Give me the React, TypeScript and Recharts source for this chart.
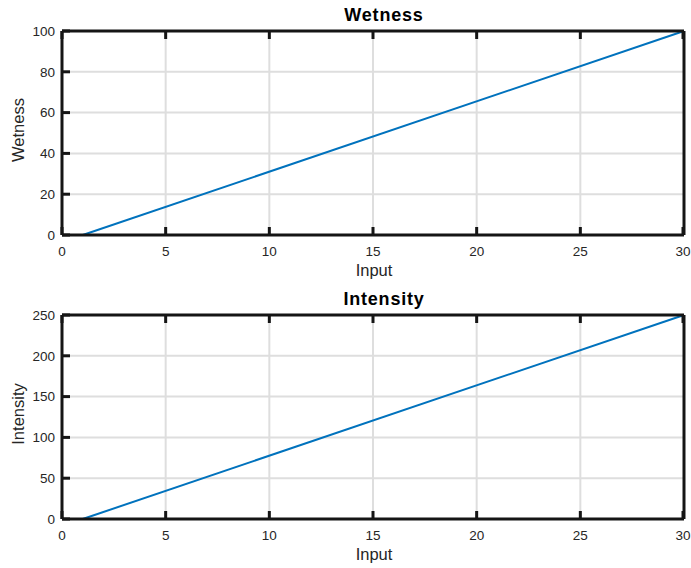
import React from "react";
import {
  CartesianGrid,
  Line,
  LineChart,
  XAxis,
  YAxis,
} from "recharts";

// input sweep and the two mapped outputs
const inputs = [1, 30];
const wetness = [0, 100];
const intensity = [0, 250];

const inputTicks = [0, 5, 10, 15, 20, 25, 30];
const wetnessTicks = [0, 20, 40, 60, 80, 100];
const intensityTicks = [0, 50, 100, 150, 200, 250];

const FONT = '"Liberation Sans", Arial, Helvetica, sans-serif';
const AXIS = "#151515";
const TEXT = "#262626";
const LINE = "#0072BD";

const W = 691;
const H = 284;
const M = { top: 30, right: 6, left: 0, bottom: 0 };
const Y_W = 62;
const X_H = 49;
// recharts default tickSize (6) + tickMargin (2)
const GAP = 8;
const IN = 8;

// tick marks point into the plot, MATLAB style
const BottomTick = (p: any) => (
  <g>
    <line x1={p.x} x2={p.x} y1={p.y - GAP} y2={p.y - GAP - IN} stroke={AXIS} strokeWidth={3} />
    <text x={p.x} y={p.y + 3} dy="0.71em" textAnchor="middle" fontSize={13.5} fontFamily={FONT} fill={TEXT}>
      {p.payload.value}
    </text>
  </g>
);

const LeftTick = (p: any) => (
  <g>
    <line x1={p.x + GAP} x2={p.x + GAP + IN} y1={p.y} y2={p.y} stroke={AXIS} strokeWidth={3} />
    <text x={p.x + 1} y={p.y} dy="0.355em" textAnchor="end" fontSize={13.5} fontFamily={FONT} fill={TEXT}>
      {p.payload.value}
    </text>
  </g>
);

const TopTick = (p: any) => (
  <line x1={p.x} x2={p.x} y1={p.y + GAP} y2={p.y + GAP + IN} stroke={AXIS} strokeWidth={3} />
);

const RightTick = (p: any) => (
  <line x1={p.x - GAP} x2={p.x - GAP - IN} y1={p.y} y2={p.y} stroke={AXIS} strokeWidth={3} />
);

interface PanelProps {
  title: string;
  values: number[];
  yTicks: number[];
}

const Panel: React.FC<PanelProps> = ({ title, values, yTicks }) => {
  const data = inputs.map((x, i) => ({ x, y: values[i] }));
  const yMax = yTicks[yTicks.length - 1];
  const plotTop = M.top + 1;
  const plotBottom = H - X_H;
  const plotMid = (plotTop + plotBottom) / 2;
  const axisLine = { stroke: AXIS, strokeWidth: 3 };

  return (
    <LineChart width={W} height={H} data={data} margin={M}>
      <CartesianGrid
        xAxisId="b"
        yAxisId="l"
        stroke="#dedede"
        strokeWidth={2}
        horizontalValues={yTicks}
        verticalValues={inputTicks}
      />
      <XAxis
        xAxisId="b"
        dataKey="x"
        type="number"
        domain={[0, 30]}
        ticks={inputTicks}
        height={X_H}
        tick={BottomTick}
        tickLine={false}
        axisLine={axisLine}
      />
      <XAxis
        xAxisId="t"
        orientation="top"
        dataKey="x"
        type="number"
        domain={[0, 30]}
        ticks={inputTicks}
        height={1}
        tick={TopTick}
        tickLine={false}
        axisLine={axisLine}
      />
      <YAxis
        yAxisId="l"
        type="number"
        domain={[0, yMax]}
        ticks={yTicks}
        width={Y_W}
        tick={LeftTick}
        tickLine={false}
        axisLine={axisLine}
      />
      <YAxis
        yAxisId="r"
        orientation="right"
        type="number"
        domain={[0, yMax]}
        ticks={yTicks}
        width={1}
        tick={RightTick}
        tickLine={false}
        axisLine={axisLine}
      />
      <Line
        xAxisId="b"
        yAxisId="l"
        type="linear"
        dataKey="y"
        stroke={LINE}
        strokeWidth={2}
        dot={false}
        isAnimationActive={false}
      />
      <text
        x={384}
        y={plotTop - 10}
        textAnchor="middle"
        fontFamily={FONT}
        fontWeight="bold"
        fontSize={18}
        letterSpacing={0.8}
        fill="#000"
      >
        {title}
      </text>
      <text
        x={374}
        y={plotBottom + 41}
        textAnchor="middle"
        fontFamily={FONT}
        fontSize={16.5}
        fill={TEXT}
      >
        Input
      </text>
      <text
        x={24}
        y={plotMid - 3}
        textAnchor="middle"
        fontFamily={FONT}
        fontSize={16.5}
        fill={TEXT}
        transform={`rotate(-90 24 ${plotMid - 3})`}
      >
        {title}
      </text>
    </LineChart>
  );
};

export default function App() {
  return (
    <div
      style={{
        position: "absolute",
        left: 0,
        top: 0,
        width: W,
        height: 568,
        background: "#fff",
      }}
    >
      <Panel title="Wetness" values={wetness} yTicks={wetnessTicks} />
      <Panel title="Intensity" values={intensity} yTicks={intensityTicks} />
    </div>
  );
}
